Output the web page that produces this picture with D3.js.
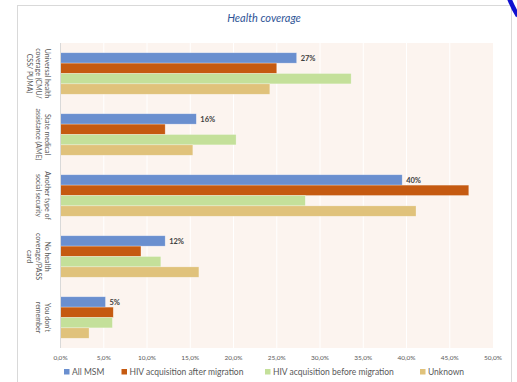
<!DOCTYPE html>
<html lang="en">
<head>
  <meta charset="UTF-8" />
  <title>Health coverage</title>
  <style>
    body {
      margin: 0;
      background: #fff;
      font-family: Lato, "Open Sans", sans-serif;
    }
    svg { display: block; }
  </style>
</head>
<body>
  <svg width="517" height="382"></svg>

  <script src="https://cdnjs.cloudflare.com/ajax/libs/d3/7.8.5/d3.min.js"></script>
  <script>
    // Health coverage by group (share of respondents, %)
    const categories = [
      ["Universal health", "coverage (CMU/", "CSS/ PUMA)"],
      ["State medical", "assistance (AME)"],
      ["Another type of", "social security"],
      ["No health", "coverage/PASS", "card"],
      ["You don't", "remember"]
    ];
    const seriesNames = [
      "All MSM",
      "HIV acquisition after migration",
      "HIV acquisition before migration",
      "Unknown"
    ];
    const allMsm      = [27.3, 15.7, 39.5, 12.1, 5.2];
    const afterMig    = [25.0, 12.1, 47.2,  9.3, 6.1];
    const beforeMig   = [33.6, 20.3, 28.3, 11.6, 6.0];
    const unknown     = [24.2, 15.3, 41.1, 16.0, 3.3];
    const xTicks = [0, 5, 10, 15, 20, 25, 30, 35, 40, 45, 50];

    const seriesValues = [allMsm, afterMig, beforeMig, unknown];
    const colors = ["#6a8fcf", "#c55a11", "#c4e09a", "#e0c27b"];

    const svg = d3.select("svg");

    // outer chart frame
    svg.append("rect")
      .attr("x", 17.5).attr("y", 5.5)
      .attr("width", 494).attr("height", 400)
      .attr("fill", "#fff")
      .attr("stroke", "#d9d9d9");

    // blue stroke peeking in at the top-right corner
    svg.append("path")
      .attr("d", "M509,-2 Q513,8 518,16")
      .attr("fill", "none")
      .attr("stroke", "#1010d0")
      .attr("stroke-width", 4.5);

    svg.append("text")
      .attr("x", 264).attr("y", 22)
      .attr("text-anchor", "middle")
      .attr("font-size", 11)
      .attr("font-style", "italic")
      .attr("fill", "#2f5597")
      .text("Health coverage");

    const x = d3.scaleLinear().domain([0, 50]).range([60.5, 493]);
    const y0 = d3.scaleBand()
      .domain(d3.range(categories.length))
      .range([43, 348])
      .paddingInner(0.32)
      .paddingOuter(0.16);
    const y1 = d3.scaleBand()
      .domain(d3.range(seriesNames.length))
      .range([0, y0.bandwidth()]);

    // plot background
    svg.append("rect")
      .attr("x", x(0)).attr("y", 43)
      .attr("width", x(50) - x(0)).attr("height", 305)
      .attr("fill", "#fcf4ef");

    // vertical gridlines
    svg.append("g")
      .selectAll("line")
      .data(xTicks.slice(1, -1))
      .join("line")
      .attr("x1", d => x(d)).attr("x2", d => x(d))
      .attr("y1", 43).attr("y2", 348)
      .attr("stroke", "#ffffff")
      .attr("stroke-width", 1);

    // bars
    const groups = svg.append("g")
      .selectAll("g")
      .data(categories)
      .join("g")
      .attr("transform", (d, i) => `translate(0,${y0(i)})`);

    groups.selectAll("rect")
      .data((d, i) => seriesValues.map((s, k) => ({ k, v: s[i] })))
      .join("rect")
      .attr("x", x(0))
      .attr("y", d => y1(d.k))
      .attr("width", d => x(d.v) - x(0))
      .attr("height", y1.bandwidth())
      .attr("fill", d => colors[d.k])
      .attr("stroke", "rgba(255,255,255,0.45)")
      .attr("stroke-width", 0.6);

    // value labels on the All MSM bars
    groups.append("text")
      .attr("x", (d, i) => x(allMsm[i]) + 4)
      .attr("y", y1(0) + y1.bandwidth() / 2)
      .attr("dy", "0.35em")
      .attr("font-size", 7.5)
      .attr("font-weight", "bold")
      .attr("fill", "#404040")
      .text((d, i) => Math.round(allMsm[i]) + "%");

    // y axis line
    svg.append("line")
      .attr("x1", x(0)).attr("x2", x(0))
      .attr("y1", 43).attr("y2", 348)
      .attr("stroke", "#d9d9d9");

    // rotated category labels, first line nearest the axis
    const lab = svg.append("g")
      .selectAll("text")
      .data(categories)
      .join("text")
      .attr("transform", (d, i) => `translate(47,${y0(i) + y0.bandwidth() / 2}) rotate(90)`)
      .attr("text-anchor", "middle")
      .attr("font-size", 7)
      .attr("fill", "#595959");
    lab.selectAll("tspan")
      .data(d => d)
      .join("tspan")
      .attr("x", 0)
      .attr("y", (d, j) => j * 8.6 + 2.5)
      .text(d => d);

    // x tick labels
    svg.append("g")
      .selectAll("text")
      .data(xTicks)
      .join("text")
      .attr("x", d => x(d))
      .attr("y", 360)
      .attr("text-anchor", "middle")
      .attr("font-size", 6.5)
      .attr("fill", "#595959")
      .text(d => d3.format(".1f")(d).replace(".", ",") + "%");

    // legend
    const legendX = [64, 121.5, 265, 420];
    const legend = svg.append("g")
      .selectAll("g")
      .data(seriesNames)
      .join("g")
      .attr("transform", (d, i) => `translate(${legendX[i]},372)`);
    legend.append("rect")
      .attr("x", 0).attr("y", -3)
      .attr("width", 5.5).attr("height", 5.5)
      .attr("fill", (d, i) => colors[i]);
    legend.append("text")
      .attr("x", 8)
      .attr("y", 0)
      .attr("dy", "0.35em")
      .attr("font-size", 8.5)
      .attr("fill", "#595959")
      .text(d => d);
  </script>
</body>
</html>
